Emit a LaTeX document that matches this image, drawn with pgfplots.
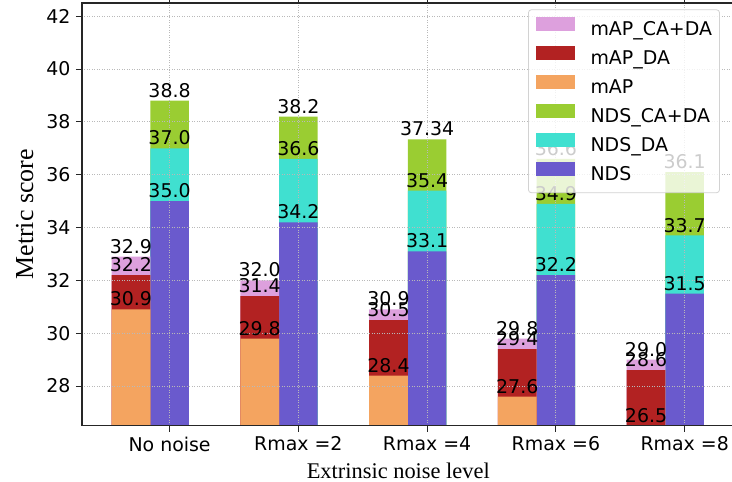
\documentclass[border=0pt]{standalone}
\usepackage{pgfplots}
\pgfplotsset{compat=1.18}
\usepackage{fontspec}
\setmainfont{DejaVu Sans}
\newfontfamily\seriffont{Liberation Serif}
\definecolor{cplum}{HTML}{DDA0DD}
\definecolor{cfire}{HTML}{B22222}
\definecolor{csandy}{HTML}{F4A460}
\definecolor{cyg}{HTML}{9ACD32}
\definecolor{cturq}{HTML}{40E0D0}
\definecolor{cslate}{HTML}{6A5ACD}
\begin{document}
\begin{tikzpicture}
\useasboundingbox (-82bp,-56.3bp) rectangle (650bp,425.7bp);
\begin{axis}[
  at={(0,0)}, anchor=south west,
  scale only axis, width=651.6bp, height=422.7bp,
  xmin=-0.68, xmax=4.38, ymin=26.5, ymax=42.5,
  xtick={0,1,2,3,4},
  xticklabels={No noise,Rmax =2,Rmax =4,Rmax =6,Rmax =8},
  ytick={28,30,32,34,36,38,40,42},
  tick align=outside, major tick length=6bp,
  tick style={line width=1bp, color=black!85},
  axis line style={line width=1.3bp, color=black!85},
  xmajorgrids, ymajorgrids,
  grid style={dash pattern=on 1bp off 1.5bp, line width=0.9bp, color=gray!55},
  axis on top,
  ticklabel style={font=\fontsize{19}{22}\selectfont},
  yticklabel style={xshift=-2bp},
  xticklabel style={yshift=-1.5bp},
  /pgf/number format/assume math mode=true,
  xlabel={\seriffont\fontsize{22.5}{26}\selectfont Extrinsic noise level},
  ylabel={\seriffont\fontsize{26}{30}\selectfont Metric score},
  every axis x label/.style={at={(axis description cs:0.4854,-0.1245)}, anchor=base},
  every axis y label/.style={at={(axis description cs:-0.0752,0.5)}, rotate=90, anchor=base},
  mybar/.style={ybar, bar shift=0pt, bar width=0.3, draw=none, forget plot,
    point meta=explicit symbolic, nodes near coords,
    every node near coord/.append style={font=\fontsize{19}{22}\selectfont, anchor=south, inner sep=0pt, yshift=3bp, text=black}},
  legend image code/.code={\fill[#1,fill opacity=1,draw=none,sharp corners] (0bp,0bp) rectangle (39bp,14bp);},
  legend cell align=left,
  legend style={
    at={(axis description cs:0.9790,0.985)}, anchor=north east,
    draw=gray!35, line width=0.8bp, rounded corners=3bp,
    fill=white, fill opacity=0.8, text opacity=1, draw opacity=1,
    font=\fontsize{19}{22}\selectfont,
    inner xsep=7.5bp, inner ysep=7bp, row sep=5.6bp, column sep=15.6bp,
    nodes={inner sep=0pt, text height=14bp, text depth=5bp}
  },
]
% NDS group (right bars)
\addplot[mybar, fill=cyg] coordinates {(0,38.8) [38.8] (1,38.2) [38.2] (2,37.34) [37.34] (3,36.6) [36.6] (4,36.1) [36.1]};
\addplot[mybar, fill=cturq] coordinates {(0,37.0) [37.0] (1,36.6) [36.6] (2,35.4) [35.4] (3,34.9) [34.9] (4,33.7) [33.7]};
\addplot[mybar, fill=cslate] coordinates {(0,35.0) [35.0] (1,34.2) [34.2] (2,33.1) [33.1] (3,32.2) [32.2] (4,31.5) [31.5]};
% mAP group (left bars)
\addplot[mybar, fill=cplum] coordinates {(-0.3,32.9) [32.9] (0.7,32.0) [32.0] (1.7,30.9) [30.9] (2.7,29.8) [29.8] (3.7,29.0) [29.0]};
\addplot[mybar, fill=cfire] coordinates {(-0.3,32.2) [32.2] (0.7,31.4) [31.4] (1.7,30.5) [30.5] (2.7,29.4) [29.4] (3.7,28.6) [28.6]};
\addplot[mybar, fill=csandy] coordinates {(-0.3,30.9) [30.9] (0.7,29.8) [29.8] (1.7,28.4) [28.4] (2.7,27.6) [27.6] (3.7,26.5) [26.5]};
\addlegendimage{fill=cplum}\addlegendentry{mAP\_CA+DA}
\addlegendimage{fill=cfire}\addlegendentry{mAP\_DA}
\addlegendimage{fill=csandy}\addlegendentry{mAP}
\addlegendimage{fill=cyg}\addlegendentry{NDS\_CA+DA}
\addlegendimage{fill=cturq}\addlegendentry{NDS\_DA}
\addlegendimage{fill=cslate}\addlegendentry{NDS}
\end{axis}
\end{tikzpicture}
\end{document}
